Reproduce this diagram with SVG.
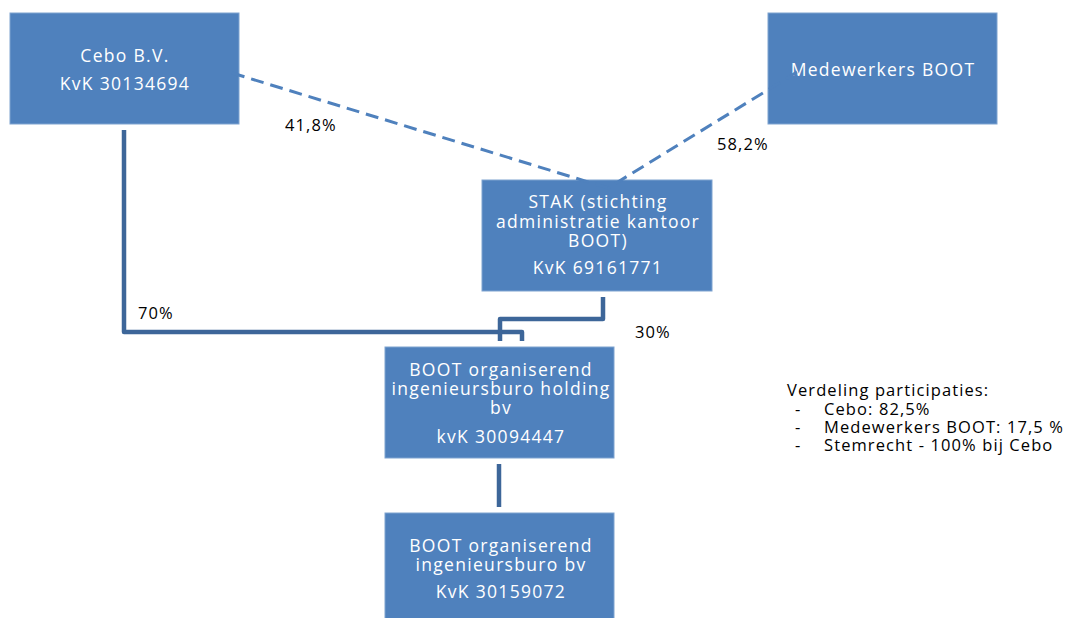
<svg xmlns="http://www.w3.org/2000/svg" width="1089" height="618" viewBox="0 0 1089 618">
<style>
.box{fill:#4F81BD;stroke:#7FA3D0;stroke-width:1}
.bt{font-family:"Open Sans","Noto Sans",sans-serif;font-size:17.5px;letter-spacing:1.3px;fill:#FFFFFF;text-anchor:middle}
.lbl{font-family:"Open Sans","Noto Sans",sans-serif;font-size:16.5px;letter-spacing:1.1px;fill:#000000}
.solid{fill:none;stroke:#3D6699;stroke-width:4.5;stroke-linejoin:round}
.dash{fill:none;stroke:#4F81BD;stroke-width:3;stroke-dasharray:13 7}
</style>
<rect width="1089" height="618" fill="#FFFFFF"/>
<g id="connectors">
<path class="solid" d="M124 130 V332 H522 V341"/>
<path class="solid" d="M603 297 V319 H500 V341"/>
<path class="solid" d="M499 464 V507"/>
</g>
<g id="cebo">
<rect class="box" x="10" y="13" width="229" height="111"/>
<text class="bt" x="125" y="62">Cebo B.V.</text>
<text class="bt" x="125" y="90">KvK 30134694</text>
</g>
<g id="medewerkers">
<rect class="box" x="768" y="13" width="229" height="111"/>
<text class="bt" x="883" y="76">Medewerkers BOOT</text>
</g>
<g id="stak">
<rect class="box" x="482" y="180" width="230" height="111"/>
<text class="bt" x="598" y="208">STAK (stichting</text>
<text class="bt" x="598" y="228">administratie kantoor</text>
<text class="bt" x="598" y="247">BOOT)</text>
<text class="bt" x="598" y="274">KvK 69161771</text>
</g>
<g id="holding">
<rect class="box" x="385" y="347" width="229" height="111"/>
<text class="bt" x="501" y="376">BOOT organiserend</text>
<text class="bt" x="501" y="395">ingenieursburo holding</text>
<text class="bt" x="501" y="414">bv</text>
<text class="bt" x="501" y="443">kvK 30094447</text>
</g>
<g id="bv">
<rect class="box" x="385" y="513" width="229" height="110"/>
<text class="bt" x="501" y="552">BOOT organiserend</text>
<text class="bt" x="501" y="571">ingenieursburo bv</text>
<text class="bt" x="501" y="598">KvK 30159072</text>
</g>
<g id="dashed">
<path class="dash" d="M232 73 L608 188"/>
<path class="dash" d="M797 72 L608 188"/>
</g>
<g id="labels">
<text class="lbl" x="285" y="131">41,8%</text>
<text class="lbl" x="717" y="150">58,2%</text>
<text class="lbl" x="138" y="319">70%</text>
<text class="lbl" x="635" y="338">30%</text>
</g>
<g id="legend">
<text class="lbl" x="787" y="396">Verdeling participaties:</text>
<text class="lbl" x="795" y="415">-</text>
<text class="lbl" x="824" y="415">Cebo: 82,5%</text>
<text class="lbl" x="795" y="433">-</text>
<text class="lbl" x="824" y="433">Medewerkers BOOT: 17,5 %</text>
<text class="lbl" x="795" y="451">-</text>
<text class="lbl" x="824" y="451">Stemrecht - 100% bij Cebo</text>
</g>
</svg>
